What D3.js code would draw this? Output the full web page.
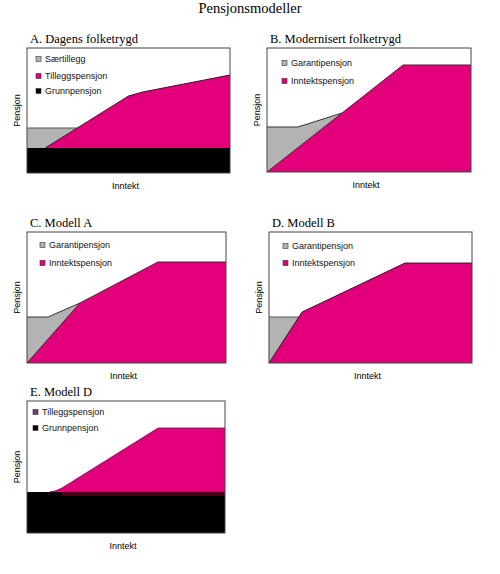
<!DOCTYPE html>
<html>
<head>
<meta charset="utf-8">
<script src="https://cdn.jsdelivr.net/npm/d3@7"></script>
<style>
  body { margin: 0; background: #fff; }
</style>
</head>
<body>
<svg id="chart" width="500" height="574"></svg>
<script>
// all values, in % of each panel (x = inntekt, y = pensjon)
const mainTitle = "Pensjonsmodeller";
const panelTitles = ["A. Dagens folketrygd", "B. Modernisert folketrygd", "C. Modell A", "D. Modell B", "E. Modell D"];

const grunnA = [[0, 20], [100, 20]];
const saerA = [[0, 36], [25, 36]];
const tilleggA = [[9, 20], [50, 61.6], [57, 64.8], [100, 78.4]];

const garantiB = [[0, 36.3], [15.2, 36.3], [36.8, 47.6]];
const inntektB = [[0, 0], [66.7, 86.3], [100, 86.3]];

const garantiC = [[0, 35.1], [10.6, 35.1], [26.6, 45.8]];
const inntektC = [[0, 0], [26.6, 45.8], [65.8, 77.1], [100, 77.1]];

const garantiD = [[0, 35.1], [14.7, 35.1]];
const inntektD = [[0, 0], [16.3, 38.9], [67, 76.3], [100, 76.3]];

const grunnE = [[0, 31.1], [100, 31.1]];
const tilleggE = [[11.6, 31.1], [14.6, 32], [17.7, 34.1], [66.2, 79.5], [100, 79.5]];

const legendA = [["Særtillegg", "#b3b3b3"], ["Tilleggspensjon", "#e2007a"], ["Grunnpensjon", "#000"]];
const legendB = [["Garantipensjon", "#b3b3b3"], ["Inntektspensjon", "#e2007a"]];
const legendE = [["Tilleggspensjon", "#7d3a70"], ["Grunnpensjon", "#000"]];

const PINK = "#e2007a", GREY = "#b3b3b3";

const panels = [
  { title: panelTitles[0], box: [27, 48, 230, 173], leg: [36, [59, 76, 91]], legend: legendA,
    series: [
      { pts: saerA, base: 20, fill: GREY, stroke: "#555" },
      { pts: tilleggA, base: 20, fill: PINK, stroke: "#222" },
      { pts: grunnA, base: 0, fill: "#000", stroke: "none" }
    ] },
  { title: panelTitles[1], box: [267, 48, 471, 172], leg: [282, [63, 81]], legend: legendB,
    series: [
      { pts: garantiB, base: 0, fill: GREY, stroke: "#333" },
      { pts: inntektB, base: 0, fill: PINK, stroke: "#333" }
    ] },
  { title: panelTitles[2], box: [27, 232, 226, 363], leg: [40, [245, 263]], legend: legendB,
    series: [
      { pts: garantiC, base: 0, fill: GREY, stroke: "#333" },
      { pts: inntektC, base: 0, fill: PINK, stroke: "#333" }
    ] },
  { title: panelTitles[3], box: [269, 232, 472, 363], leg: [283, [246, 263]], legend: legendB,
    series: [
      { pts: garantiD, base: 0, fill: GREY, stroke: "#555" },
      { pts: inntektD, base: 0, fill: PINK, stroke: "#222" }
    ] },
  { title: panelTitles[4], box: [27, 401, 225, 533], leg: [33, [412, 428]], legend: legendE,
    series: [
      { pts: tilleggE, base: 31.1, fill: PINK, stroke: "#6a2a5a" },
      { pts: grunnE, base: 0, fill: "#000", stroke: "none" }
    ], band: true }
];

const svg = d3.select("#chart");

svg.append("text")
  .attr("x", 250).attr("y", 13)
  .attr("text-anchor", "middle")
  .attr("font-family", "Liberation Serif, Times New Roman, serif")
  .attr("font-size", 14.5)
  .text(mainTitle);

panels.forEach(p => {
  const [x0, y0, x1, y1] = p.box;
  const x = d3.scaleLinear().domain([0, 100]).range([x0, x1]);
  const y = d3.scaleLinear().domain([0, 100]).range([y1, y0]);
  const g = svg.append("g");

  g.append("text")
    .attr("x", x0 + 3).attr("y", y0 - 5)
    .attr("font-family", "Liberation Serif, Times New Roman, serif")
    .attr("font-size", 12.5)
    .text(p.title);

  p.series.forEach(s => {
    const area = d3.area()
      .x(d => x(d[0]))
      .y0(y(s.base))
      .y1(d => y(d[1]));
    g.append("path")
      .attr("d", area(s.pts))
      .attr("fill", s.fill);
  });

  // dark seam under the pink in panel E
  if (p.band) {
    const seam = tilleggE.filter(d => d[0] >= 17.7);
    g.append("rect")
      .attr("x", x(seam[0][0]))
      .attr("y", y(31.1))
      .attr("width", x(100) - x(seam[0][0]))
      .attr("height", y(28) - y(31.1))
      .attr("fill", "#4a0014");
  }

  const line = d3.line().x(d => x(d[0])).y(d => y(d[1]));
  p.series.forEach(s => {
    if (s.stroke === "none") return;
    g.append("path")
      .attr("d", line(s.pts))
      .attr("fill", "none")
      .attr("stroke", s.stroke)
      .attr("stroke-width", 1);
  });

  g.append("rect")
    .attr("x", x0).attr("y", y0)
    .attr("width", x1 - x0).attr("height", y1 - y0)
    .attr("fill", "none")
    .attr("stroke", "#444")
    .attr("stroke-width", 1);

  p.legend.forEach((d, i) => {
    const ly = p.leg[1][i];
    g.append("rect")
      .attr("x", p.leg[0]).attr("y", ly - 2.5)
      .attr("width", 5).attr("height", 5)
      .attr("fill", d[1])
      .attr("stroke", "#333")
      .attr("stroke-width", 0.6);
    g.append("text")
      .attr("x", p.leg[0] + 9).attr("y", ly + 3)
      .attr("font-family", "Liberation Sans, Arial, sans-serif")
      .attr("font-size", 9)
      .attr("fill", "#111")
      .text(d[0]);
  });

  g.append("text")
    .attr("transform", `translate(${x0 - 7},${(y0 + y1) / 2}) rotate(-90)`)
    .attr("text-anchor", "middle")
    .attr("font-family", "Liberation Sans, Arial, sans-serif")
    .attr("font-size", 9)
    .text("Pensjon");

  g.append("text")
    .attr("x", (x0 + x1) / 2 - 3).attr("y", y1 + 16)
    .attr("text-anchor", "middle")
    .attr("font-family", "Liberation Sans, Arial, sans-serif")
    .attr("font-size", 9)
    .text("Inntekt");
});
</script>
</body>
</html>
